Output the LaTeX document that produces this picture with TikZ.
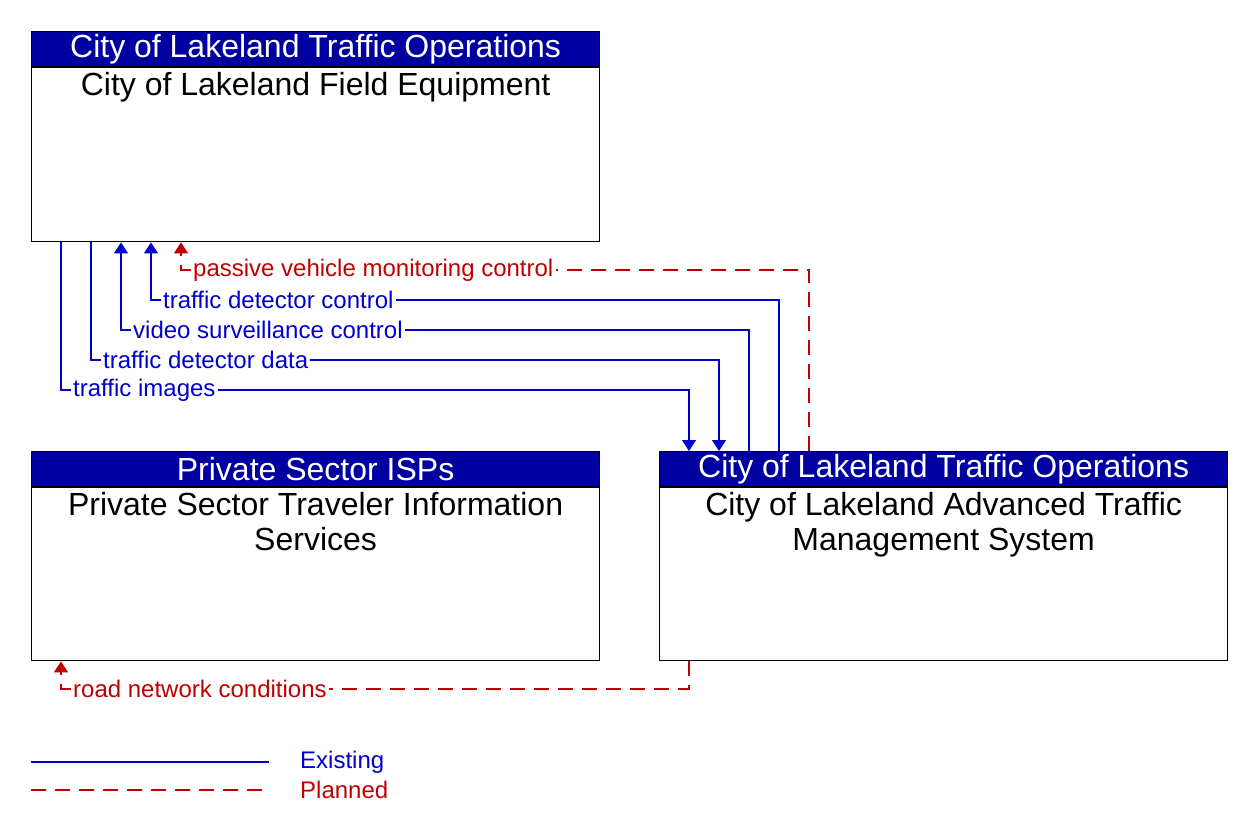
\documentclass[tikz,border=0pt]{standalone}
\usepackage{fontspec}
\setmainfont{Liberation Sans}
\usepackage{tikz}
\usetikzlibrary{arrows.meta,positioning,calc}
\definecolor{hdrblue}{RGB}{0,0,160}
\definecolor{flowblue}{RGB}{0,0,204}
\definecolor{flowred}{RGB}{192,0,0}

\begin{document}
\begin{tikzpicture}[
   x=1pt,y=-1pt,
   >={Triangle[width=14pt,length=11pt]},
   hdr/.style={draw,fill=hdrblue,text=white,line width=1.2pt,minimum width=568pt,
               minimum height=35pt,inner sep=0pt,font=\fontsize{32}{35}\selectfont},
   body/.style={draw,line width=1.2pt,minimum width=568pt,inner sep=0pt},
   boxtext/.style={inner sep=0pt,align=center,font=\fontsize{32}{35}\selectfont},
   lbl/.style={inner xsep=2pt,inner ysep=0pt,font=\fontsize{24}{28}\selectfont},
   exist/.style={flowblue,line width=1.2pt},
   plan/.style={flowred,line width=1.2pt,dash pattern=on 15pt off 9pt}
  ]
  \useasboundingbox (0,0) rectangle (1252,836);

  \node[hdr,anchor=north west] (fieldhdr) at (31,31) {City of Lakeland Traffic Operations};
  \node[body,minimum height=174pt,below=0pt of fieldhdr] (field) {};
  \node[boxtext,below=5pt of fieldhdr] (fieldtxt) {City of Lakeland Field Equipment};

  \node[hdr,anchor=north west] (isphdr) at (31,451) {Private Sector ISPs};
  \node[body,minimum height=173pt,below=0pt of isphdr] (isp) {};
  \node[boxtext,below=5pt of isphdr] (isptxt) {Private Sector Traveler Information\\Services};

  \node[hdr,anchor=north west] (atmshdr) at (659,451) {City of Lakeland Traffic Operations};
  \node[body,minimum height=173pt,below=0pt of atmshdr] (atms) {};
  \node[boxtext,below=5pt of atmshdr] (atmstxt) {City of Lakeland Advanced Traffic\\Management System};

  \node[lbl,text=flowred,anchor=west]  (pvmc) at (191,270) {passive vehicle monitoring control};
  \node[lbl,text=flowblue,anchor=west] (tdc)  at (161,300) {traffic detector control};
  \node[lbl,text=flowblue,anchor=west] (vsc)  at (131,330) {video surveillance control};
  \node[lbl,text=flowblue,anchor=west] (tdd)  at (101,360) {traffic detector data};
  \node[lbl,text=flowblue,anchor=west] (timg) at (71,390)  {traffic images};
  \node[lbl,text=flowred,anchor=west]  (rnc)  at (71,689)  {road network conditions};

  \draw[exist] ($(field.south west)+(30,0)$) |- (timg.west);
  \draw[exist,->] (timg.east) -| ($(atmshdr.north west)+(30,0)$);
  \draw[exist] ($(field.south west)+(60,0)$) |- (tdd.west);
  \draw[exist,->] (tdd.east) -| ($(atmshdr.north west)+(60,0)$);
  \draw[exist] ($(atmshdr.north west)+(90,0)$) |- (vsc.east);
  \draw[exist,->] (vsc.west) -| ($(field.south west)+(90,0)$);
  \draw[exist] ($(atmshdr.north west)+(120,0)$) |- (tdc.east);
  \draw[exist,->] (tdc.west) -| ($(field.south west)+(120,0)$);
  \draw[plan] ($(atmshdr.north west)+(150,0)$) |- (pvmc.east);
  \draw[plan,->] (pvmc.west) -| ($(field.south west)+(150,0)$);
  \draw[plan] ($(atms.south west)+(30,0)$) |- (rnc.east);
  \draw[plan,->] (rnc.west) -| ($(isp.south west)+(30,0)$);

  \coordinate (exa) at (31,762);
  \coordinate (exb) at (269,762);
  \coordinate (pla) at (31,790);
  \coordinate (plb) at (269,790);
  \draw[exist] (exa) -- (exb);
  \draw[plan] (pla) -- (plb);
  \node[lbl,text=flowblue,anchor=west] (legex) at (298,762) {Existing};
  \node[lbl,text=flowred,anchor=west]  (legpl) at (298,790) {Planned};
\end{tikzpicture}
\end{document}
